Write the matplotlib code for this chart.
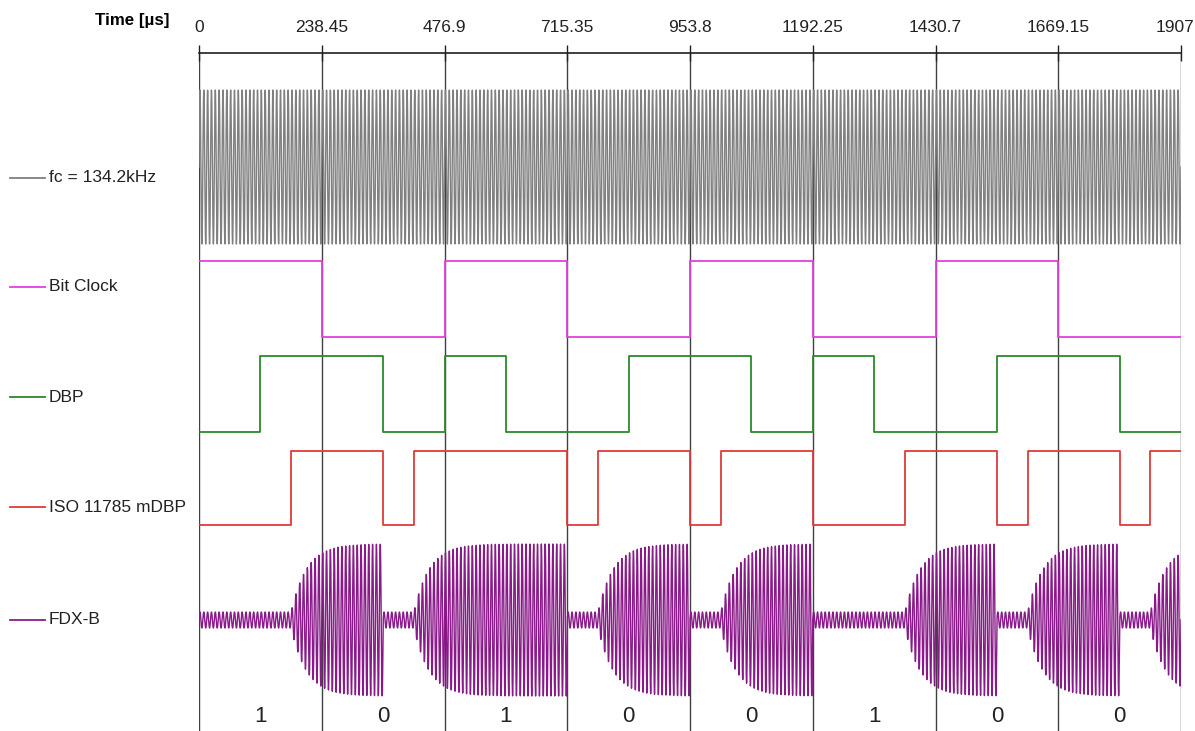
import numpy as np
import matplotlib.pyplot as plt
from matplotlib.transforms import ScaledTranslation

plt.rcParams['font.family'] = ['Liberation Sans', 'DejaVu Sans']

# data
bits = [1, 0, 1, 0, 0, 1, 0, 0]
bit_period = 238.45          # us
fc_khz = 134.2
tick_values = [0, 238.45, 476.9, 715.35, 953.8, 1192.25, 1430.7, 1669.15, 1907]
tick_labels = ["0", "238.45", "476.9", "715.35", "953.8", "1192.25", "1430.7", "1669.15", "1907"]

# bit clock level per bit
clock_levels = [1, 0, 1, 0, 1, 0, 1, 0]
# DBP level per half bit
dbp_levels = [0, 1, 1, 0, 1, 0, 0, 1, 1, 0, 1, 0, 0, 1, 1, 0]
# ISO 11785 mDBP level per quarter bit
mdbp_levels = [0, 0, 0, 1, 1, 1, 0, 1, 1, 1, 1, 1, 0, 1, 1, 1,
               0, 1, 1, 1, 0, 0, 0, 1, 1, 1, 0, 1, 1, 1, 0, 1]

trace_names = ["fc = 134.2kHz", "Bit Clock", "DBP", "ISO 11785 mDBP", "FDX-B"]
trace_colors = ["#808080", "#e040e0", "#2a8a2a", "#e03a3a", "#8a1a8a"]

# vertical placement (figure pixel rows, axis is inverted)
W, H = 1195, 731
x0_px, x1_px, top_px = 199, 1181, 53
label_rows = [178, 287, 397, 507, 620]
carrier_mid, carrier_amp = 167, 77
clock_hi, clock_lo = 261, 337
dbp_hi, dbp_lo = 356, 432
mdbp_hi, mdbp_lo = 451, 525
fdx_mid, fdx_big, fdx_small = 620, 76, 8
tau = 30.0  # us, burst rise time constant

t_end = bit_period * len(bits)


def step_trace(levels, hi, lo):
    seg = t_end / len(levels)
    xs, ys = [], []
    for i, lv in enumerate(levels):
        y = hi if lv else lo
        xs += [i * seg, (i + 1) * seg]
        ys += [y, y]
    return np.array(xs), np.array(ys)


fig = plt.figure(figsize=(W / 100, H / 100), dpi=100)
ax = fig.add_axes([x0_px / W, 0, (x1_px - x0_px) / W, 1 - top_px / H])
ax.set_xlim(0, t_end)
ax.set_ylim(H, top_px)

# carrier
t = np.linspace(0, t_end, 12000)
carrier = np.sin(2 * np.pi * fc_khz / 1000 * t)
ax.plot(t, carrier_mid - carrier_amp * carrier, color=trace_colors[0], lw=1.0)

# bit clock, DBP, mDBP
for levels, hi, lo, c in [(clock_levels, clock_hi, clock_lo, trace_colors[1]),
                          (dbp_levels, dbp_hi, dbp_lo, trace_colors[2]),
                          (mdbp_levels, mdbp_hi, mdbp_lo, trace_colors[3])]:
    xs, ys = step_trace(levels, hi, lo)
    ax.plot(xs, ys, color=c, lw=1.3)

# FDX-B: carrier with envelope driven by mDBP
qseg = t_end / len(mdbp_levels)
env = np.full_like(t, float(fdx_small))
on = np.array(mdbp_levels)[np.minimum((t / qseg).astype(int), len(mdbp_levels) - 1)]
start = None
for i in range(len(t)):
    if on[i]:
        if start is None:
            start = t[i]
        env[i] = fdx_small + (fdx_big - fdx_small) * (1 - np.exp(-(t[i] - start) / tau))
    else:
        start = None
ax.plot(t, fdx_mid - env * carrier, color=trace_colors[4], lw=1.0)

# grid / time axis
for v in tick_values:
    ax.axvline(v, color="#404040", lw=1.0, zorder=0)
for s in ["left", "right", "bottom"]:
    ax.spines[s].set_visible(False)
ax.spines["top"].set_color("#202020")
ax.spines["top"].set_linewidth(1.2)
ax.xaxis.tick_top()
ax.set_xticks(tick_values)
ax.set_xticklabels(tick_labels, fontsize=12.5, color="#222222")
ax.tick_params(axis="x", direction="inout", length=12, width=1.0, pad=7, color="#202020")
ax.set_yticks([])
last = ax.get_xticklabels()[-1]
last.set_transform(last.get_transform() + ScaledTranslation(-6 / 100, 0, fig.dpi_scale_trans))

fig.text(95 / W, 1 - 20 / H, "Time [µs]", fontsize=12.2, fontweight="bold", va="center", ha="left")

# left labels
for name, c, row in zip(trace_names, trace_colors, label_rows):
    yf = 1 - row / H
    fig.add_artist(plt.Line2D([10 / W, 45 / W], [yf, yf], color=c, lw=1.3))
    fig.text(49 / W, yf, name, fontsize=12.5, va="center", ha="left", color="#222222")

# bit values
for i, b in enumerate(bits):
    ax.text((i + 0.5) * bit_period, 716, str(b), fontsize=16, ha="center", va="center", color="#222222")

fig.savefig("out.png", dpi=100)
